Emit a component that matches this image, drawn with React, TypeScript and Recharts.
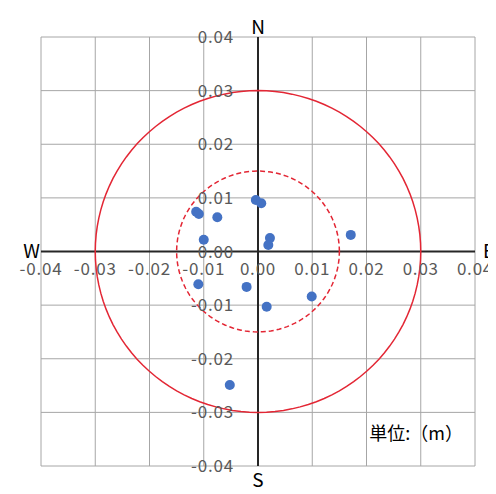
import {
  ScatterChart,
  Scatter,
  XAxis,
  YAxis,
  CartesianGrid,
  ReferenceLine,
  ReferenceDot,
} from 'recharts';

// tick values (m)
const X_TICKS = [-0.04, -0.03, -0.02, -0.01, 0, 0.01, 0.02, 0.03, 0.04];
const Y_TICKS = [-0.04, -0.03, -0.02, -0.01, 0, 0.01, 0.02, 0.03, 0.04];

// measured displacements (m)
const POINT_X = [-0.0004, 0.0006, -0.0114, -0.0109, -0.0075, -0.0100, 0.0022, 0.0019, 0.0171, -0.0110, -0.0021, 0.0099, 0.0016, -0.0052];
const POINT_Y = [0.0096, 0.0090, 0.0074, 0.0070, 0.0064, 0.0022, 0.0025, 0.0012, 0.0031, -0.0061, -0.0066, -0.0084, -0.0103, -0.0249];

// limit circles (m)
const LIMIT_RADIUS = 0.03;
const WARN_RADIUS = 0.015;

const points = POINT_X.map((x, i) => ({ x, y: POINT_Y[i] }));

const circlePoints = (r: number) =>
  Array.from({ length: 121 }, (_, i) => {
    const a = (i * 3 * Math.PI) / 180;
    return { x: r * Math.cos(a), y: r * Math.sin(a) };
  });

const FONT = '"Noto Sans CJK JP", "Noto Sans", sans-serif';
const tickStyle = { fill: '#595959', fontSize: 17, fontFamily: FONT, letterSpacing: 0.8 };
const dirStyle = { fill: '#000000', fontSize: 19, fontFamily: FONT };

const fmt = (v: number) => v.toFixed(2);

const Dot = (p: any) => <circle cx={p.cx} cy={p.cy} r={5} fill="#4472C4" />;
const NoShape = () => null;

export default function App() {
  return (
    <ScatterChart
      width={488}
      height={486}
      margin={{ top: 29, right: 21, bottom: 28, left: 33 }}
      style={{ fontFamily: FONT }}
    >
      <CartesianGrid stroke="#a6a6a6" strokeWidth={1} />
      <XAxis type="number" dataKey="x" domain={[-0.04, 0.04]} ticks={X_TICKS} hide allowDataOverflow />
      <YAxis type="number" dataKey="y" domain={[-0.04, 0.04]} ticks={Y_TICKS} hide allowDataOverflow />

      <Scatter
        data={circlePoints(LIMIT_RADIUS)}
        line={{ stroke: '#e32634', strokeWidth: 1.5 }}
        shape={NoShape}
        isAnimationActive={false}
      />
      <Scatter
        data={circlePoints(WARN_RADIUS)}
        line={{ stroke: '#e32634', strokeWidth: 1.5, strokeDasharray: '5 3' }}
        shape={NoShape}
        isAnimationActive={false}
      />

      <ReferenceLine x={0} stroke="#262626" strokeWidth={2} />
      <ReferenceLine y={0} stroke="#262626" strokeWidth={2} />

      {X_TICKS.map((v) => (
        <ReferenceDot
          key={`xt${v}`}
          x={v}
          y={0}
          r={0}
          fill="none"
          stroke="none"
          label={{ value: fmt(v), position: 'bottom', offset: 11, style: tickStyle }}
        />
      ))}
      {Y_TICKS.map((v) => (
        <ReferenceDot
          key={`yt${v}`}
          x={0}
          y={v}
          r={0}
          fill="none"
          stroke="none"
          label={{ value: fmt(v), position: 'left', offset: 24, style: tickStyle }}
        />
      ))}

      <ReferenceDot x={0} y={0.04} r={0} fill="none" stroke="none"
        label={{ value: 'N', position: 'top', offset: 3, style: dirStyle }} />
      <ReferenceDot x={0} y={-0.04} r={0} fill="none" stroke="none"
        label={{ value: 'S', position: 'bottom', offset: 8, style: dirStyle }} />
      <ReferenceDot x={-0.04} y={0} r={0} fill="none" stroke="none"
        label={{ value: 'W', position: 'left', offset: 1, style: dirStyle }} />
      <ReferenceDot x={0.04} y={0} r={0} fill="none" stroke="none"
        label={{ value: 'E', position: 'right', offset: 8, style: dirStyle }} />

      <ReferenceDot x={0.04} y={-0.034} r={0} fill="none" stroke="none"
        label={{ value: '単位:（m）', position: 'left', offset: 12, style: { fill: '#000', fontSize: 18, fontFamily: FONT } }} />

      <Scatter data={points} shape={Dot} isAnimationActive={false} />
    </ScatterChart>
  );
}
